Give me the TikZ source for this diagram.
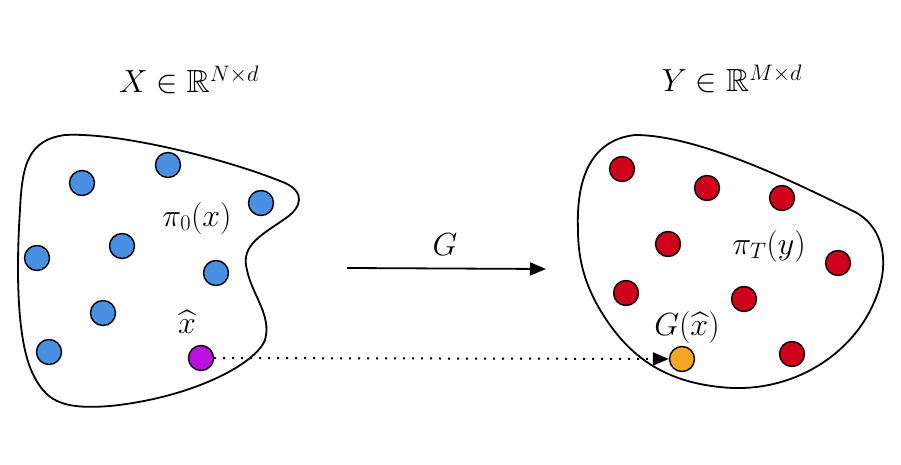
\RequirePackage{fix-cm}
\documentclass[tikz,border=0pt]{standalone}
\usepackage{amssymb}
\usetikzlibrary{arrows.meta}

\begin{document}
\begin{tikzpicture}[x=1pt,y=-1pt,
    every node/.style={inner sep=0pt,font=\fontsize{32}{38}\selectfont},
    src/.style={circle,draw,line width=1.4pt,minimum size=25pt,fill=srcblue},
    tgt/.style={circle,draw,line width=1.4pt,minimum size=25pt,fill=tgtred},
    blob/.style={line width=1.8pt},
    tip/.style={-{Triangle[length=16pt,width=13pt]}}]
  \definecolor{srcblue}{RGB}{74,144,226}
  \definecolor{tgtred}{RGB}{208,2,27}
  \definecolor{picked}{RGB}{189,16,224}
  \definecolor{mapped}{RGB}{245,166,35}
  \useasboundingbox (0,0) rectangle (901,465);

  % Titles above the two sets
  \node[anchor=base] (titleX) at (189,93) {$X \in \mathbb{R}^{N\times d}$};
  \node[anchor=base] (titleY) at (732,92) {$Y \in \mathbb{R}^{M\times d}$};

  % Left set outline
  \draw[blob] (20,210) .. controls (22,165) and (28,140) .. (65,135)
    .. controls (120,132) and (230,160) .. (285,183)
    .. controls (305,192) and (302,207) .. (286,218)
    .. controls (262,235) and (240,245) .. (247,270)
    .. controls (252,295) and (272,315) .. (265,340)
    .. controls (255,365) and (190,398) .. (110,406)
    .. controls (60,410) and (45,400) .. (32,372)
    .. controls (15,335) and (17,255) .. (20,210) -- cycle;

  % Right set outline
  \draw[blob] (578,230) .. controls (576,180) and (590,140) .. (635,135)
    .. controls (700,135) and (800,185) .. (855,212)
    .. controls (885,228) and (890,265) .. (875,300)
    .. controls (855,350) and (800,390) .. (733,388)
    .. controls (670,385) and (635,360) .. (610,325)
    .. controls (585,290) and (578,260) .. (578,230) -- cycle;

  % Samples of pi_0
  \node[src] (x1) at (82,183) {};
  \node[src] (x2) at (168,165) {};
  \node[src] (x3) at (261,203) {};
  \node[src] (x4) at (122,246) {};
  \node[src] (x5) at (37,258) {};
  \node[src] (x6) at (216,273) {};
  \node[src] (x7) at (103,313) {};
  \node[src] (x8) at (49,352) {};
  \node[src,fill=picked] (xhat) at (201,358) {};

  % Samples of pi_T
  \node[tgt] (y1) at (622,169) {};
  \node[tgt] (y2) at (707,188) {};
  \node[tgt] (y3) at (782,198) {};
  \node[tgt] (y4) at (668,244) {};
  \node[tgt] (y5) at (838,263) {};
  \node[tgt] (y6) at (626,293) {};
  \node[tgt] (y7) at (744,299) {};
  \node[tgt] (y8) at (792,354) {};
  \node[tgt,fill=mapped] (gxhat) at (682,359) {};

  % Labels inside the sets
  \node (piX) at (197,218) {$\pi_0(x)$};
  \node (xhatlbl) at (187,322) {$\widehat{x}$};
  \node (piY) at (769,246) {$\pi_T(y)$};
  \node (gxhatlbl) at (687,327) {$G(\widehat{x})$};

  % The map G
  \coordinate (mapfrom) at (347,268);
  \coordinate (mapto) at (546,269);
  \draw[tip,line width=1.8pt] (mapfrom) -- (mapto);
  \node (Glbl) at (445,245) {$G$};

  % x-hat sent to G(x-hat)
  \draw[tip,line width=2pt,dash pattern=on 2pt off 7pt] (xhat) -- (gxhat);
\end{tikzpicture}
\end{document}
